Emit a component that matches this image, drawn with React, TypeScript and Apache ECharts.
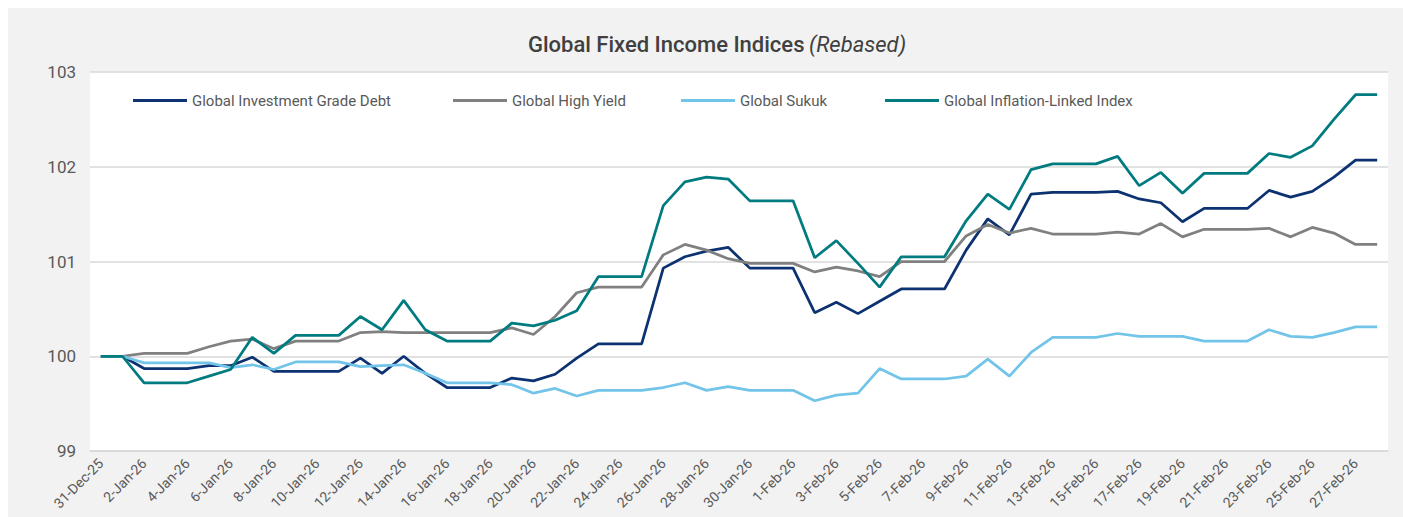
import React, { useEffect, useRef } from "react";
import * as echarts from "echarts";

const categories = [
  "31-Dec-25",
  "1-Jan-26", "2-Jan-26", "3-Jan-26", "4-Jan-26", "5-Jan-26", "6-Jan-26", "7-Jan-26", "8-Jan-26", "9-Jan-26", "10-Jan-26",
  "11-Jan-26", "12-Jan-26", "13-Jan-26", "14-Jan-26", "15-Jan-26", "16-Jan-26", "17-Jan-26", "18-Jan-26", "19-Jan-26", "20-Jan-26",
  "21-Jan-26", "22-Jan-26", "23-Jan-26", "24-Jan-26", "25-Jan-26", "26-Jan-26", "27-Jan-26", "28-Jan-26", "29-Jan-26", "30-Jan-26",
  "31-Jan-26",
  "1-Feb-26", "2-Feb-26", "3-Feb-26", "4-Feb-26", "5-Feb-26", "6-Feb-26", "7-Feb-26", "8-Feb-26", "9-Feb-26", "10-Feb-26",
  "11-Feb-26", "12-Feb-26", "13-Feb-26", "14-Feb-26", "15-Feb-26", "16-Feb-26", "17-Feb-26", "18-Feb-26", "19-Feb-26", "20-Feb-26",
  "21-Feb-26", "22-Feb-26", "23-Feb-26", "24-Feb-26", "25-Feb-26", "26-Feb-26", "27-Feb-26", "28-Feb-26",
];

const investmentGrade = [
  100, 100, 99.87, 99.87, 99.87, 99.9, 99.9, 99.99, 99.84, 99.84,
  99.84, 99.84, 99.98, 99.82, 100.0, 99.82, 99.67, 99.67, 99.67, 99.77,
  99.74, 99.81, 99.98, 100.13, 100.13, 100.13, 100.93, 101.05, 101.11, 101.15,
  100.93, 100.93, 100.93, 100.46, 100.57, 100.45, 100.58, 100.71, 100.71, 100.71,
  101.12, 101.45, 101.28, 101.71, 101.73, 101.73, 101.73, 101.74, 101.66, 101.62,
  101.42, 101.56, 101.56, 101.56, 101.75, 101.68, 101.74, 101.89, 102.07, 102.07,
];

const highYield = [
  100, 100, 100.03, 100.03, 100.03, 100.1, 100.16, 100.18, 100.08, 100.16,
  100.16, 100.16, 100.25, 100.26, 100.25, 100.25, 100.25, 100.25, 100.25, 100.3,
  100.23, 100.42, 100.67, 100.73, 100.73, 100.73, 101.07, 101.18, 101.12, 101.03,
  100.98, 100.98, 100.98, 100.89, 100.94, 100.9, 100.84, 101.0, 101.0, 101.0,
  101.27, 101.39, 101.3, 101.35, 101.29, 101.29, 101.29, 101.31, 101.29, 101.4,
  101.26, 101.34, 101.34, 101.34, 101.35, 101.26, 101.36, 101.3, 101.18, 101.18,
];

const sukuk = [
  100, 100, 99.93, 99.93, 99.93, 99.93, 99.88, 99.91, 99.86, 99.94,
  99.94, 99.94, 99.89, 99.9, 99.91, 99.82, 99.72, 99.72, 99.72, 99.7,
  99.61, 99.66, 99.58, 99.64, 99.64, 99.64, 99.67, 99.72, 99.64, 99.68,
  99.64, 99.64, 99.64, 99.53, 99.59, 99.61, 99.87, 99.76, 99.76, 99.76,
  99.79, 99.97, 99.79, 100.04, 100.2, 100.2, 100.2, 100.24, 100.21, 100.21,
  100.21, 100.16, 100.16, 100.16, 100.28, 100.21, 100.2, 100.25, 100.31, 100.31,
];

const inflationLinked = [
  100, 100, 99.72, 99.72, 99.72, 99.79, 99.86, 100.2, 100.03, 100.22,
  100.22, 100.22, 100.42, 100.28, 100.59, 100.28, 100.16, 100.16, 100.16, 100.35,
  100.32, 100.38, 100.48, 100.84, 100.84, 100.84, 101.59, 101.84, 101.89, 101.87,
  101.64, 101.64, 101.64, 101.04, 101.22, 100.98, 100.73, 101.05, 101.05, 101.05,
  101.43, 101.71, 101.55, 101.97, 102.03, 102.03, 102.03, 102.11, 101.8, 101.94,
  101.72, 101.93, 101.93, 101.93, 102.14, 102.1, 102.22, 102.5, 102.76, 102.76,
];

const seriesNames = [
  "Global Investment Grade Debt",
  "Global High Yield",
  "Global Sukuk",
  "Global Inflation-Linked Index",
];
const seriesColors = ["#0d3271", "#808080", "#72c4e9", "#007b80"];
const seriesData = [investmentGrade, highYield, sukuk, inflationLinked];
const legendLefts = [120, 440, 668, 872];

const FONT = "Roboto, 'Noto Sans', sans-serif";

export default function App() {
  const ref = useRef<HTMLDivElement>(null);

  useEffect(() => {
    if (!ref.current) return;
    const chart = echarts.init(ref.current, undefined, { renderer: "svg" });
    chart.setOption({
      animation: false,
      backgroundColor: "#f2f2f2",
      textStyle: { fontFamily: FONT },
      title: {
        text: "{a|Global Fixed Income Indices} {b|(Rebased)}",
        left: 704,
        top: 20,
        textAlign: "center",
        textStyle: {
          fontWeight: "normal",
          rich: {
            a: { fontFamily: FONT, fontSize: 22, fontWeight: 500, color: "#404040" },
            b: { fontFamily: FONT, fontSize: 22, fontWeight: "normal", fontStyle: "italic", color: "#404040" },
          },
        },
      },
      legend: seriesNames.map((n, i) => ({
        data: [n],
        left: legendLefts[i],
        top: 80,
        icon: "rect",
        itemWidth: 54,
        itemHeight: 3,
        textStyle: { color: "#595959", fontSize: 15, fontFamily: FONT },
      })),
      grid: {
        left: 82,
        right: 15,
        top: 64,
        bottom: 66,
        show: true,
        backgroundColor: "#ffffff",
        borderWidth: 0,
      },
      xAxis: {
        type: "category",
        data: categories,
        boundaryGap: true,
        axisLine: { show: true, lineStyle: { color: "#d9d9d9", width: 1.5 } },
        axisTick: { show: false },
        axisLabel: {
          interval: 1,
          rotate: 45,
          margin: 10,
          color: "#595959",
          fontSize: 14,
          fontFamily: FONT,
        },
        splitLine: { show: false },
      },
      yAxis: {
        type: "value",
        min: 99,
        max: 103,
        interval: 1,
        axisLine: { show: false },
        axisTick: { show: false },
        axisLabel: { color: "#595959", fontSize: 17, margin: 14, fontFamily: FONT },
        splitLine: { show: true, lineStyle: { color: "#d9d9d9", width: 1.5 } },
      },
      series: seriesNames.map((n, i) => ({
        name: n,
        type: "line",
        data: seriesData[i],
        symbol: "none",
        lineStyle: { color: seriesColors[i], width: 2.75 },
        itemStyle: { color: seriesColors[i] },
      })),
    });
    return () => chart.dispose();
  }, []);

  return (
    <div
      ref={ref}
      style={{ position: "fixed", left: 8, top: 8, width: 1395, height: 509 }}
    />
  );
}
